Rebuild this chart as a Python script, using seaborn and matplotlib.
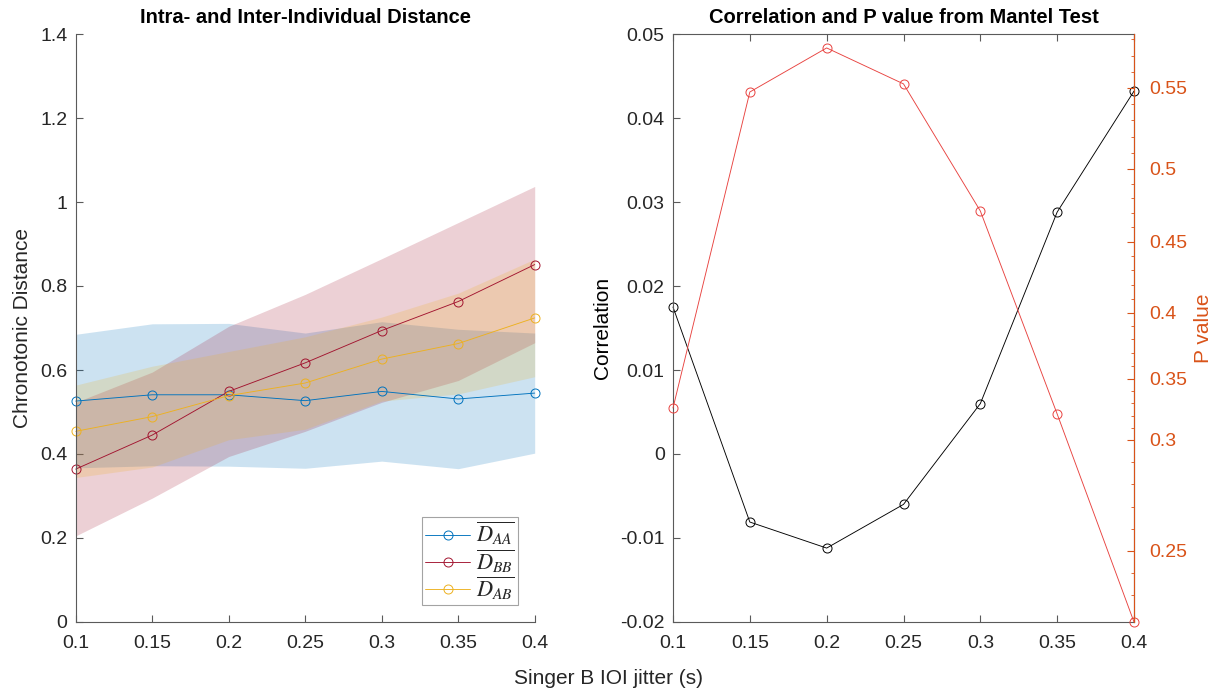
import numpy as np
import pandas as pd
import matplotlib
matplotlib.use("Agg")
import matplotlib.pyplot as plt
import seaborn as sns

# ---- data -------------------------------------------------------------
jitter = [0.10, 0.15, 0.20, 0.25, 0.30, 0.35, 0.40]

d_aa = [0.526, 0.541, 0.541, 0.527, 0.549, 0.531, 0.545]
d_bb = [0.364, 0.445, 0.549, 0.617, 0.694, 0.763, 0.851]
d_ab = [0.454, 0.489, 0.539, 0.569, 0.626, 0.663, 0.724]

sd_aa = [0.159, 0.169, 0.170, 0.161, 0.166, 0.166, 0.143]
sd_bb = [0.159, 0.150, 0.155, 0.163, 0.171, 0.188, 0.186]
sd_ab = [0.110, 0.120, 0.105, 0.110, 0.100, 0.120, 0.140]

correlation = [0.0175, -0.0081, -0.0112, -0.0060, 0.0060, 0.0288, 0.0432]
p_value = [0.3262, 0.5475, 0.5747, 0.5525, 0.4712, 0.3213, 0.2180]

series_labels = [r"$\overline{D_{AA}}$", r"$\overline{D_{BB}}$", r"$\overline{D_{AB}}$"]
left_yticks = [0, 0.2, 0.4, 0.6, 0.8, 1.0, 1.2, 1.4]
x_ticks = [0.1, 0.15, 0.2, 0.25, 0.3, 0.35, 0.4]
corr_ticks = [-0.02, -0.01, 0, 0.01, 0.02, 0.03, 0.04, 0.05]
p_ticks = [0.25, 0.3, 0.35, 0.4, 0.45, 0.5, 0.55]

# ---- style ------------------------------------------------------------
sns.set_style("ticks")
plt.rcParams["font.family"] = ["Liberation Sans", "DejaVu Sans"]
plt.rcParams["mathtext.fontset"] = "stix"
plt.rcParams["xtick.direction"] = "in"
plt.rcParams["ytick.direction"] = "in"

TXT = "#262626"
AX = "#5a5a5a"
C_BLUE = "#0072BD"
C_RED = "#A2142F"
C_YEL = "#EDB120"
C_ORANGE = "#D95319"
LW = 0.65
MS = 6.5

W, H = 1217, 690
fig = plt.figure(figsize=(W / 100, H / 100), dpi=100)
ax1 = fig.add_axes([75.7 / W, 68 / H, 459 / W, 588 / H])
ax2 = fig.add_axes([673 / W, 68 / H, 461 / W, 588 / H])

# ---- left panel: distances with spread bands --------------------------
for vals, sd, col in zip([d_aa, d_bb, d_ab], [sd_aa, sd_bb, sd_ab],
                         [C_BLUE, C_RED, C_YEL]):
    v = np.asarray(vals)
    s = np.asarray(sd)
    ax1.fill_between(jitter, v - s, v + s, color=col, alpha=0.2, lw=0)
for vals, col, lab in zip([d_aa, d_bb, d_ab], [C_BLUE, C_RED, C_YEL], series_labels):
    sns.lineplot(x=jitter, y=vals, ax=ax1, color=col, lw=LW, marker="o",
                 markersize=MS, markerfacecolor="none", markeredgecolor=col,
                 markeredgewidth=0.7, label=lab, clip_on=False)

ax1.set_xlim(0.1, 0.4)
ax1.set_ylim(0, 1.4)
ax1.set_xticks(x_ticks)
ax1.set_xticklabels([f"{t:g}" for t in x_ticks])
ax1.set_yticks(left_yticks)
ax1.set_yticklabels([f"{t:g}" for t in left_yticks])
ax1.set_ylabel("Chronotonic Distance", fontsize=15, color=TXT, labelpad=6)
ax1.set_xlabel("")
ax1.set_title("Intra- and Inter-Individual Distance", fontsize=14.5,
              fontweight="bold", color="black", pad=8)
sns.despine(ax=ax1)
for sp in ["left", "bottom"]:
    ax1.spines[sp].set_color(AX)
    ax1.spines[sp].set_linewidth(0.8)
ax1.tick_params(labelsize=14, colors=AX, labelcolor=TXT, length=5, width=0.8)
ax1.tick_params(axis="x", pad=9)
ax1.tick_params(axis="y", pad=6)

leg = ax1.legend(loc="lower right", fontsize=16, frameon=True, fancybox=False,
                 edgecolor="#8c8c8c", handlelength=2.0, handletextpad=0.3,
                 borderpad=0.15, labelspacing=0.0, borderaxespad=0.75)
leg.get_frame().set_linewidth(0.8)

# ---- right panel: Mantel correlation and p value -----------------------
sns.lineplot(x=jitter, y=correlation, ax=ax2, color="black", lw=LW, marker="o",
             markersize=MS, markerfacecolor="none", markeredgecolor="black",
             markeredgewidth=0.7, clip_on=False)
ax2.set_xlim(0.1, 0.4)
ax2.set_ylim(-0.02, 0.05)
ax2.set_xticks(x_ticks)
ax2.set_xticklabels([f"{t:g}" for t in x_ticks])
ax2.set_yticks(corr_ticks)
ax2.set_yticklabels([f"{t:g}" for t in corr_ticks])
ax2.set_ylabel("Correlation", fontsize=15, color="black", labelpad=6)
ax2.set_title("Correlation and P value from Mantel Test", fontsize=14.5,
              fontweight="bold", color="black", pad=8)
ax2.tick_params(labelsize=14, colors=AX, labelcolor=TXT, length=5, width=0.8,
                top=True)
ax2.tick_params(axis="x", pad=9)
ax2.tick_params(axis="y", pad=6)
for sp in ["left", "bottom", "top"]:
    ax2.spines[sp].set_color(AX)
    ax2.spines[sp].set_linewidth(0.8)

# p value axis: uneven spacing between the tick values
P_KNOTS = [0.15, 0.25, 0.30, 0.35, 0.40, 0.45, 0.50, 0.55, 0.70]
P_POS = [-151, 71, 182, 243, 309, 380, 453, 534, 777]


def p_forward(p):
    return np.interp(p, P_KNOTS, P_POS)


def p_inverse(q):
    return np.interp(q, P_POS, P_KNOTS)


ax3 = ax2.twinx()
ax3.set_yscale("function", functions=(p_forward, p_inverse))
sns.lineplot(x=jitter, y=p_value, ax=ax3, color="#E8423F", lw=LW, marker="o",
             markersize=MS, markerfacecolor="none", markeredgecolor="#E8423F",
             markeredgewidth=0.7, clip_on=False)
ax3.set_ylim(0.2180, 0.5833)
ax3.set_yticks(p_ticks)
ax3.set_yticklabels([f"{t:g}" for t in p_ticks])
ax3.set_yticks(np.round(np.arange(0.22, 0.585, 0.01), 2), minor=True)
ax3.set_ylabel("P value", fontsize=15, color=C_ORANGE, labelpad=5)
ax3.tick_params(axis="y", which="major", labelsize=14, colors=C_ORANGE,
                length=5, width=0.8, direction="in", pad=11)
ax3.tick_params(axis="y", which="minor", colors=C_ORANGE, length=2.5,
                width=0.6, direction="in")
ax3.spines["right"].set_color(C_ORANGE)
ax3.spines["right"].set_linewidth(0.8)
for sp in ["left", "top", "bottom"]:
    ax3.spines[sp].set_visible(False)

fig.text(0.5, 1 - 678 / H, "Singer B IOI jitter (s)", ha="center", va="center",
         fontsize=15, color=TXT)

fig.savefig("out.png", dpi=100, facecolor="white")
